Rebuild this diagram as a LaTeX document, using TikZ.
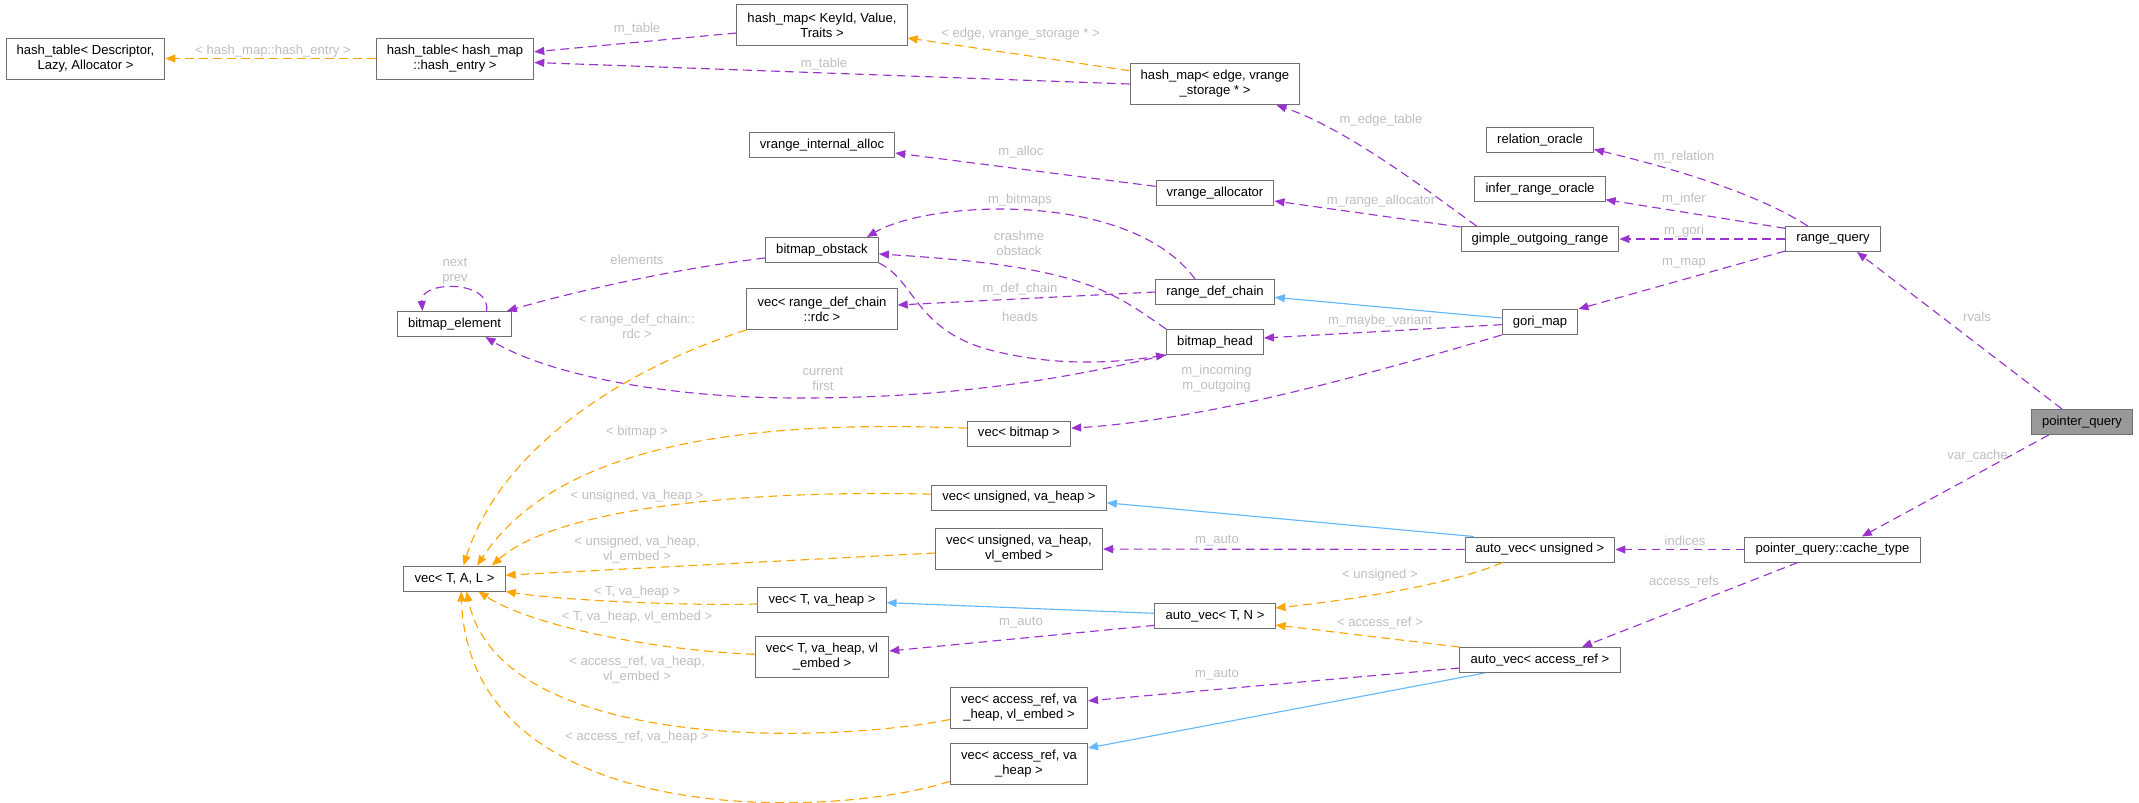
\documentclass[tikz,border=0pt]{standalone}
\usepackage{fontspec}
\setmainfont{Liberation Sans}
\usetikzlibrary{arrows.meta}
\definecolor{usecol}{HTML}{9A32CD}
\definecolor{tplcol}{HTML}{FFA500}
\definecolor{isacol}{HTML}{63B8FF}
\definecolor{boxcol}{HTML}{707070}
\definecolor{lblcol}{HTML}{BEBEBE}
\tikzset{
    cls/.style={draw=boxcol, fill=white, line width=0.75pt, inner xsep=8pt, inner ysep=2pt,
        minimum height=18.75pt, align=center, font=\fontsize{9.8}{11.25}\selectfont},
    cls2/.style={cls, minimum height=30.75pt},
    lbl/.style={text=lblcol, inner sep=0pt, align=center, font=\fontsize{9.8}{11.25}\selectfont},
    % member, template and base class links
    uses/.style={draw=usecol, line width=0.85pt, dash pattern=on 6.5pt off 4pt,
        -{Triangle[length=7.5pt,width=6pt]}},
    tpl/.style={uses, draw=tplcol},
    isa/.style={draw=isacol, line width=0.85pt, -{Triangle[length=7.5pt,width=6pt]}}
}

\begin{document}
\begin{tikzpicture}[x=0.75pt, y=-0.75pt]
\useasboundingbox (0,0) rectangle (2139,803);
\node(HT1) [cls2] at (85.5,58.5) {hash\_table< Descriptor,\\ Lazy, Allocator >};
\node(HT2) [cls2] at (455,58.5)  {hash\_table< hash\_map\\ ::hash\_entry >};
\node(HM1) [cls2] at (822,25)    {hash\_map< KeyId, Value,\\ Traits >};
\node(HM2) [cls2] at (1215,84)   {hash\_map< edge, vrange\\ \_storage * >};
\node(VI)  [cls]  at (822,145)   {vrange\_internal\_alloc};
\node(VA)  [cls]  at (1215,193)  {vrange\_allocator};
\node(BO)  [cls]  at (822,250)   {bitmap\_obstack};
\node(RD)  [cls]  at (1215,292)  {range\_def\_chain};
\node(VR)  [cls2] at (822,309)   {vec< range\_def\_chain\\ ::rdc >};
\node(BE)  [cls]  at (454.5,324) {bitmap\_element};
\node(BH)  [cls]  at (1215,342)  {bitmap\_head};
\node(RO)  [cls]  at (1540,140)  {relation\_oracle};
\node(IO)  [cls]  at (1540,189)  {infer\_range\_oracle};
\node(GO)  [cls]  at (1540,239)  {gimple\_outgoing\_range};
\node(GM)  [cls]  at (1540,322)  {gori\_map};
\node(RQ)  [cls]  at (1833,239)  {range\_query};
\node(PQ)  [cls, fill=black!40] at (2082,422) {pointer\_query};
\node(CT)  [cls]  at (1832.5,549.5) {pointer\_query::cache\_type};
\node(AU)  [cls]  at (1540,549.5) {auto\_vec< unsigned >};
\node(AA)  [cls]  at (1540,660)  {auto\_vec< access\_ref >};
\node(AT)  [cls]  at (1215,616)  {auto\_vec< T, N >};
\node(VB)  [cls]  at (1019,433.5) {vec< bitmap >};
\node(VU)  [cls]  at (1019,497.5) {vec< unsigned, va\_heap >};
\node(VUE) [cls2] at (1019,549)  {vec< unsigned, va\_heap,\\ vl\_embed >};
\node(VT)  [cls]  at (822,600)   {vec< T, va\_heap >};
\node(VTE) [cls2] at (822,657)   {vec< T, va\_heap, vl\\ \_embed >};
\node(VAE) [cls2] at (1019,707.5) {vec< access\_ref, va\\ \_heap, vl\_embed >};
\node(VAH) [cls2] at (1019,764)  {vec< access\_ref, va\\ \_heap >};
\node(V)   [cls]  at (454.5,578.5) {vec< T, A, L >};

% hash tables
\draw[tpl] (HT2) -- (HT1) node[lbl] at (273,51) {< hash\_map::hash\_entry >};
\draw[uses] ([yshift=-6pt]HM1.west) -- ([yshift=5pt]HT2.east) node[lbl] at (637,29) {m\_table};
\draw[uses] (HM2.west) -- ([yshift=-3pt]HT2.east) node[lbl] at (824,64) {m\_table};
\draw[tpl] ([yshift=10pt]HM2.west) -- ([yshift=-9.75pt]HM1.east) node[lbl] at (1020.5,34) {< edge, vrange\_storage * >};
\draw[uses] ([xshift=12pt]GO.north west) .. controls (1440,200) and (1350,130) .. ([xshift=-18pt]HM2.south east) node[lbl] at (1381,120) {m\_edge\_table};
\draw[uses] ([yshift=5pt]VA.west) -- ([yshift=-6pt]VI.east) node[lbl] at (1021,152) {m\_alloc};
\draw[uses] ([yshift=9pt]GO.west) -- ([yshift=-6pt]VA.east) node[lbl] at (1381,201) {m\_range\_allocator};

% bitmaps
\draw[uses] ([xshift=-15pt]RD.north) .. controls (1130,190) and (930,200) .. ([xshift=-9pt]BO.north east) node[lbl] at (1020,200) {m\_bitmaps};
\draw[uses] (BH.north west) .. controls (1110,290) and (1080,266) .. ([yshift=-3pt]BO.east) node[lbl] at (1019,243) {crashme\\obstack};
\draw[uses] (RD.west) -- ([yshift=3pt]VR.east) node[lbl] at (1020,289) {m\_def\_chain};
\draw[uses] ([yshift=-6pt]BO.west) .. controls (680,268) and (580,290) .. ([xshift=-4pt]BE.north east) node[lbl] at (637,260) {elements};
\draw[uses] ([xshift=24pt]BE.north) .. controls (492,280) and (420,280) .. ([xshift=-24pt]BE.north) node[lbl] at (455,271) {next\\prev};
\draw[uses] (BO.south east) .. controls (915,280) and (915,330) .. (990,350) .. controls (1060,368) and (1120,362) .. (BH.south west) node[lbl] at (1020,317) {heads};
\draw[uses] (BH.south west) .. controls (1060,380) and (950,398) .. (800,398) .. controls (650,398) and (540,370) .. ([xshift=-20pt]BE.south east) node[lbl] at (823,379) {current\\first};

% gori map and range query
\draw[isa] ([yshift=3pt]GM.west) -- ([yshift=-4pt]RD.east);
\draw[uses] ([yshift=-2pt]GM.west) -- ([yshift=3pt]BH.east) node[lbl] at (1380,321) {m\_maybe\_variant};
\draw[uses] (GM.south west) .. controls (1350,380) and (1200,420) .. ([yshift=4pt]VB.east) node[lbl] at (1216.5,379) {m\_incoming\\m\_outgoing};
\draw[uses] ([xshift=-19pt]RQ.north) .. controls (1760,195) and (1680,170) .. ([yshift=-7pt]RO.east) node[lbl] at (1684,157) {m\_relation};
\draw[uses] ([yshift=8pt]RQ.west) -- ([yshift=-8pt]IO.east) node[lbl] at (1684,199) {m\_infer};
\draw[uses] (RQ) -- (GO) node[lbl] at (1684,231) {m\_gori};
\draw[uses] ([yshift=-9pt]RQ.west) -- (GM.north east) node[lbl] at (1684,263) {m\_map};
\draw[uses] ([xshift=-15pt]PQ.north) -- ([xshift=18pt]RQ.south) node[lbl] at (1977,317) {rvals};
\draw[uses] ([xshift=-25pt]PQ.south) -- ([xshift=22pt]CT.north) node[lbl] at (1977.6,456) {var\_cache};

% auto vectors
\draw[uses] (CT) -- (AU) node[lbl] at (1685,541) {indices};
\draw[uses] ([xshift=-26pt]CT.south) -- ([xshift=31.5pt]AA.north) node[lbl] at (1684,582) {access\_refs};
\draw[isa] ([xshift=7pt]AU.north west) -- ([yshift=-4pt]VU.east);
\draw[uses] (AU) -- (VUE) node[lbl] at (1217,541) {m\_auto};
\draw[tpl] ([xshift=-28pt]AU.south) .. controls (1450,585) and (1350,600) .. ([yshift=6pt]AT.east) node[lbl] at (1380,575) {< unsigned >};
\draw[tpl] (AA.north west) -- ([yshift=-6.75pt]AT.east) node[lbl] at (1380,623) {< access\_ref >};
\draw[uses] ([yshift=-6pt]AA.west) -- ([yshift=5pt]VAE.east) node[lbl] at (1217,675) {m\_auto};
\draw[isa] ([xshift=19pt]AA.south west) -- ([yshift=12pt]VAH.east);
\draw[isa] ([yshift=2pt]AT.west) -- ([yshift=-2pt]VT.east);
\draw[uses] ([yshift=-7pt]AT.west) -- ([yshift=4.5pt]VTE.east) node[lbl] at (1021,623) {m\_auto};

% template instances of vec
\draw[tpl] (VR.south west) .. controls (620,370) and (500,450) .. ([xshift=6.75pt]V.north) node[lbl] at (637,326) {< range\_def\_chain::\\rdc >};
\draw[tpl] ([yshift=4pt]VB.west) .. controls (760,420) and (560,440) .. ([xshift=17pt]V.north) node[lbl] at (637,432) {< bitmap >};
\draw[tpl] ([yshift=2.5pt]VU.west) .. controls (760,490) and (560,505) .. ([xshift=28pt]V.north) node[lbl] at (637,496) {< unsigned, va\_heap >};
\draw[tpl] ([yshift=-3pt]VUE.west) -- ([yshift=2.5pt]V.east) node[lbl] at (637,550) {< unsigned, va\_heap,\\ vl\_embed >};
\draw[tpl] ([yshift=-3pt]VT.west) .. controls (680,606) and (560,600) .. (V.south east) node[lbl] at (637,592) {< T, va\_heap >};
\draw[tpl] ([yshift=2pt]VTE.west) .. controls (650,650) and (530,625) .. ([xshift=18pt]V.south) node[lbl] at (637,617) {< T, va\_heap, vl\_embed >};
\draw[tpl] ([yshift=-9pt]VAE.west) .. controls (820,745) and (500,750) .. ([xshift=9pt]V.south) node[lbl] at (637,670) {< access\_ref, va\_heap,\\ vl\_embed >};
\draw[tpl] ([yshift=-13pt]VAH.west) .. controls (830,820) and (470,830) .. ([xshift=5pt]V.south) node[lbl] at (637,737) {< access\_ref, va\_heap >};
\end{tikzpicture}
\end{document}
